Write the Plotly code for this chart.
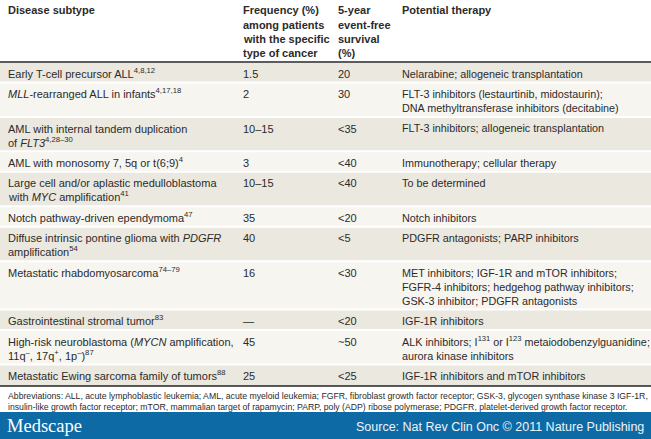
import plotly.graph_objects as go

W, H = 651, 439

# ---------------- data ----------------
header_subtype = ["Disease subtype"]
header_frequency = ["Frequency (%)", "among patients", "with the specific", "type of cancer"]
header_survival = ["5-year", "event-free", "survival", "(%)"]
header_therapy = ["Potential therapy"]

subtypes = [
    ["Early T-cell precursor ALL<sup>4,8,12</sup>"],
    ["<i>MLL</i>-rearranged ALL in infants<sup>4,17,18</sup>"],
    ["AML with internal tandem duplication", "of <i>FLT3</i><sup>4,28–30</sup>"],
    ["AML with monosomy 7, 5q or t(6;9)<sup>4</sup>"],
    ["Large cell and/or aplastic medulloblastoma", "with <i>MYC</i> amplification<sup>41</sup>"],
    ["Notch pathway-driven ependymoma<sup>47</sup>"],
    ["Diffuse intrinsic pontine glioma with <i>PDGFR</i>", "amplification<sup>54</sup>"],
    ["Metastatic rhabdomyosarcoma<sup>74–79</sup>"],
    ["Gastrointestinal stromal tumor<sup>83</sup>"],
    ["High-risk neuroblastoma (<i>MYCN</i> amplification,",
     "11q<sup>–</sup>, 17q<sup>+</sup>, 1p<sup>–</sup>)<sup>87</sup>"],
    ["Metastatic Ewing sarcoma family of tumors<sup>88</sup>"],
]
frequency = ["1.5", "2", "10–15", "3", "10–15", "35", "40", "16", "—", "45", "25"]
survival = ["20", "30", "&lt;35", "&lt;40", "&lt;40", "&lt;20", "&lt;5", "&lt;30", "&lt;20", "~50", "&lt;25"]
therapy = [
    ["Nelarabine; allogeneic transplantation"],
    ["FLT-3 inhibitors (lestaurtinib, midostaurin);", "DNA methyltransferase inhibitors (decitabine)"],
    ["FLT-3 inhibitors; allogeneic transplantation"],
    ["Immunotherapy; cellular therapy"],
    ["To be determined"],
    ["Notch inhibitors"],
    ["PDGFR antagonists; PARP inhibitors"],
    ["MET inhibitors; IGF-1R and mTOR inhibitors;",
     "FGFR-4 inhibitors; hedgehog pathway inhibitors;",
     "GSK-3 inhibitor; PDGFR antagonists"],
    ["IGF-1R inhibitors"],
    ["ALK inhibitors; I<sup>131</sup> or I<sup>123</sup> metaiodobenzylguanidine;", "aurora kinase inhibitors"],
    ["IGF-1R inhibitors and mTOR inhibitors"],
]
footnote = [
    "Abbreviations: ALL, acute lymphoblastic leukemia; AML, acute myeloid leukemia; FGFR, fibroblast growth factor receptor; GSK-3, glycogen synthase kinase 3 IGF-1R,",
    "insulin-like growth factor receptor; mTOR, mammalian target of rapamycin; PARP, poly (ADP) ribose polymerase; PDGFR, platelet-derived growth factor receptor.",
]
brand = "Medscape"
source = "Source: Nat Rev Clin Onc © 2011 Nature Publishing"

# ---------------- style / layout ----------------
FONT = "Liberation Sans, Arial, sans-serif"
TXT = "#2b2b2b"
FS = 11
COL_FS = [11, 11, 11, 10.8]
LH = 14.0
PAD = 6.45
COLX = [8, 243, 338, 402]
SHADE = "#ebe8df"
LIGHT = "#f7f5f0"
BLUE = "#0e6aa5"
DESC = 2.4  # descent of font below baseline (at FS)

shapes = []
annotations = []


def add_line(x, baseline, text, size=FS, bold=False, color=TXT, family=FONT, anchor="left"):
    if bold:
        text = "<b>" + text + "</b>"
    annotations.append(dict(
        x=x, y=baseline + DESC * size / FS, xref="x", yref="y",
        xanchor=anchor, yanchor="bottom", text=text, showarrow=False,
        font=dict(family=family, size=size, color=color),
        borderpad=0, borderwidth=0, align=anchor,
    ))


# header
header_cols = [header_subtype, header_frequency, header_survival, header_therapy]
for cx, lines in zip(COLX, header_cols):
    for i, t in enumerate(lines):
        add_line(cx, 14 + i * 14.3, t, bold=True)

rule_top = 62
shapes.append(dict(type="line", x0=0, x1=W, y0=rule_top, y1=rule_top,
                   line=dict(color="#262626", width=1.5), xref="x", yref="y"))

top = rule_top + 1
for r in range(len(subtypes)):
    n = max(len(subtypes[r]), len(therapy[r]), 1)
    h = PAD + LH * n
    last = r == len(subtypes) - 1
    shapes.append(dict(type="rect", x0=0, x1=W, y0=top, y1=top + h - (0 if last else 2),
                       fillcolor=SHADE if r % 2 == 0 else LIGHT, line=dict(width=0),
                       layer="below", xref="x", yref="y"))
    base = top + 14.2
    cells = [subtypes[r], [frequency[r]], [survival[r]], therapy[r]]
    for cx, fs, lines in zip(COLX, COL_FS, cells):
        for i, t in enumerate(lines):
            add_line(cx, base + i * LH, t, size=fs)
    top += h

shapes.append(dict(type="line", x0=0, x1=W, y0=top, y1=top,
                   line=dict(color="#262626", width=1.5), xref="x", yref="y"))

# footnote
for i, t in enumerate(footnote):
    add_line(8, top + 13.5 + i * 10.5, t, size=8.7)

# banner
banner_top = 412
shapes.append(dict(type="rect", x0=0, x1=W, y0=banner_top, y1=H, fillcolor=BLUE,
                   line=dict(width=0), layer="below", xref="x", yref="y"))
add_line(7, banner_top + 19.5, brand, size=18.5, color="#ffffff",
         family="Liberation Serif, Times New Roman, serif")
add_line(644, banner_top + 19, source, size=12.5, color="#eef4f9", anchor="right")

fig = go.Figure()
fig.update_layout(
    width=W, height=H, margin=dict(l=0, r=0, t=0, b=0),
    paper_bgcolor="#ffffff", plot_bgcolor="#ffffff",
    xaxis=dict(range=[0, W], visible=False, fixedrange=True),
    yaxis=dict(range=[H, 0], visible=False, fixedrange=True),
    shapes=shapes, annotations=annotations, showlegend=False,
)
fig.write_html("out.html", config={"displayModeBar": False})

with open("out.html", encoding="utf-8") as f:
    html = f.read()
html = html.replace("<head>", "<head><style>html,body{margin:0;padding:0;overflow:hidden;}</style>", 1)
with open("out.html", "w", encoding="utf-8") as f:
    f.write(html)
